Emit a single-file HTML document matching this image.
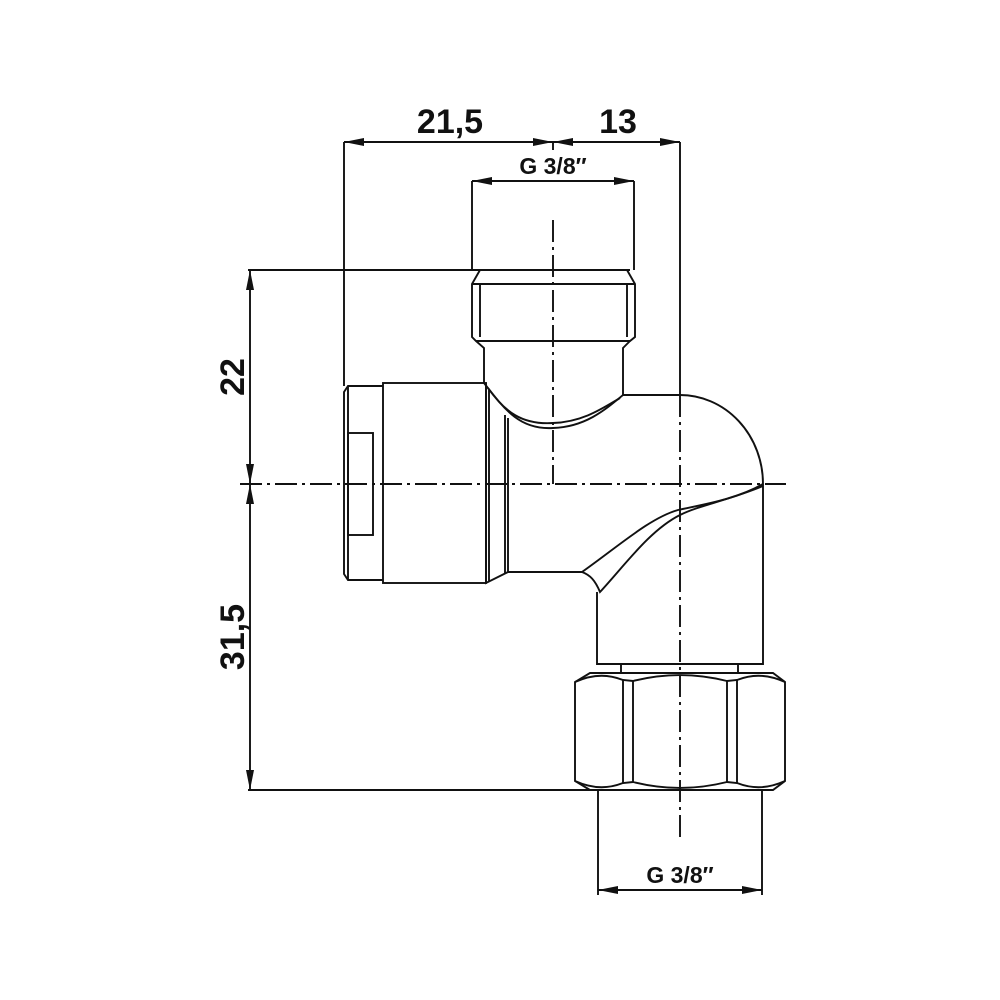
<!DOCTYPE html>
<html><head><meta charset="utf-8"><style>
html,body{margin:0;padding:0;background:#fff;}
svg{display:block}
text{font-family:"Liberation Sans",sans-serif;font-weight:bold;fill:#111}
</style></head><body>
<svg width="1000" height="1000" viewBox="0 0 1000 1000" xmlns="http://www.w3.org/2000/svg">
<defs>
<marker id="a" viewBox="0 0 20 8" refX="20" refY="4" markerWidth="20" markerHeight="8" markerUnits="userSpaceOnUse" orient="auto-start-reverse"><path d="M0,0 L20,4 L0,8 Z" fill="#111"/></marker>
</defs>
<g stroke="#111" stroke-width="1.9" fill="none">
<line x1="344" y1="142" x2="553" y2="142" marker-start="url(#a)" marker-end="url(#a)"/>
<line x1="553" y1="142" x2="680" y2="142" marker-start="url(#a)" marker-end="url(#a)"/>
<line x1="553" y1="142" x2="553" y2="150"/>
<line x1="472" y1="181" x2="634" y2="181" marker-start="url(#a)" marker-end="url(#a)"/>
<line x1="344" y1="142" x2="344" y2="386"/>
<line x1="680" y1="142" x2="680" y2="395"/>
<line x1="472" y1="181" x2="472" y2="270"/>
<line x1="634" y1="181" x2="634" y2="270"/>
<line x1="248" y1="270" x2="630" y2="270"/>
<line x1="250" y1="270" x2="250" y2="484" marker-start="url(#a)" marker-end="url(#a)"/>
<line x1="250" y1="484" x2="250" y2="790" marker-start="url(#a)" marker-end="url(#a)"/>
<line x1="248" y1="790" x2="590" y2="790"/>
<line x1="598" y1="890" x2="762" y2="890" marker-start="url(#a)" marker-end="url(#a)"/>
<line x1="598" y1="790" x2="598" y2="895"/>
<line x1="762" y1="790" x2="762" y2="895"/>
<line x1="553" y1="220" x2="553" y2="484" stroke-dasharray="22,5,3,5"/>
<line x1="240" y1="484" x2="786" y2="484" stroke-dasharray="22,5,3,5"/>
<line x1="680" y1="395" x2="680" y2="840" stroke-dasharray="22,5,3,5"/>
<path d="M472,284 L480,270 L627,270 L635,284 L635,337 L630,341 L476,341 L472,337 Z"/>
<line x1="472" y1="284" x2="635" y2="284"/>
<line x1="480" y1="284" x2="480" y2="337"/>
<line x1="627" y1="284" x2="627" y2="337"/>
<path d="M476,341 L484,348 L484,383"/>
<path d="M630,341 L623,348 L623,395"/>
<path d="M484,383 C505,410 520,430 553,428 C585,427 605,410 623,395"/>
<path d="M488,388 C505,412 522,425 553,423 C583,422 603,408 620,398"/>
<path d="M623,395 L680,395 A83,89 0 0 1 763,484 L763,664 L597,664 L597,592"/>
<path d="M763,484 C735,500 700,505 678,510 C650,518 620,545 582,572 L508,572"/>
<path d="M763,486 C730,500 700,505 680,515 C650,530 625,565 600,592 C595,580 590,575 582,572"/>
<path d="M486,383 L486,583 L508,572 L508,418"/>
<line x1="489" y1="390" x2="489" y2="582"/>
<line x1="505" y1="415" x2="505" y2="573"/>
<rect x="383" y="383" width="103" height="200"/>
<path d="M383,386 L348,386 L344,392 L344,574 L348,580 L383,580"/>
<line x1="348" y1="386" x2="348" y2="580"/>
<rect x="348" y="433" width="25" height="102"/>
<line x1="621" y1="664" x2="621" y2="673"/>
<line x1="738" y1="664" x2="738" y2="673"/>
<path d="M590,673 L773,673 L785,682 L785,781 L773,790 L590,790 L575,781 L575,682 Z"/>
<line x1="623" y1="680" x2="623" y2="783"/>
<line x1="633" y1="681" x2="633" y2="782"/>
<line x1="727" y1="681" x2="727" y2="782"/>
<line x1="737" y1="680" x2="737" y2="783"/>
<path d="M575,682 C595,673 610,675 623,680 L633,681 C665,673 695,673 727,681 L737,680 C750,675 765,673 785,682"/>
<path d="M575,781 C595,790 610,788 623,783 L633,782 C665,790 695,790 727,782 L737,783 C750,788 765,790 785,781"/>
</g>
<text x="450" y="133" font-size="34" text-anchor="middle">21,5</text>
<text x="618" y="133" font-size="34" text-anchor="middle">13</text>
<text x="553" y="174" font-size="23" text-anchor="middle">G 3/8″</text>
<text x="680" y="883" font-size="23" text-anchor="middle">G 3/8″</text>
<text transform="translate(244,377) rotate(-90)" font-size="34" text-anchor="middle">22</text>
<text transform="translate(244,637) rotate(-90)" font-size="34" text-anchor="middle">31,5</text>
</svg>
</body></html>
